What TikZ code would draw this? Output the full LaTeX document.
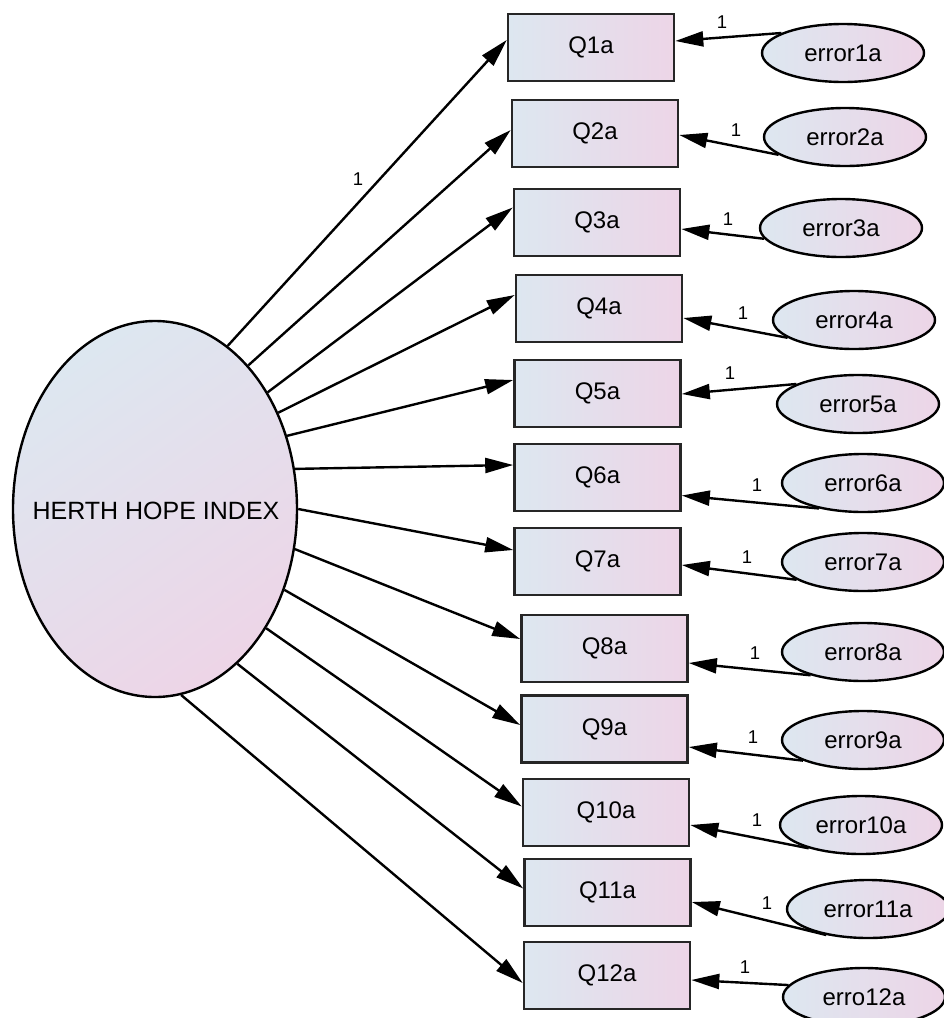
\documentclass[tikz,border=0pt]{standalone}
\usepackage{fontspec}
\setmainfont{Liberation Sans}
\usetikzlibrary{shapes.geometric,arrows.meta}
\definecolor{gblue}{RGB}{221,231,240}
\definecolor{gpink}{RGB}{237,213,231}
\begin{document}
\begin{tikzpicture}[x=1pt,y=-1pt,
 obs/.style={draw=black!85, line width=2.6pt, rectangle, minimum width=166pt, minimum height=67pt, inner sep=0pt, left color=gblue, right color=gpink, font=\fontsize{24}{28}\selectfont},
 err/.style={draw, line width=2.4pt, ellipse, minimum width=162pt, minimum height=58pt, inner sep=0pt, left color=gblue, right color=gpink, font=\fontsize{24}{28}\selectfont},
 lat/.style={draw, line width=2.4pt, ellipse, minimum width=284pt, minimum height=376pt, inner sep=0pt, top color=gblue, bottom color=gpink, shading angle=35},
 arr/.style={line width=2.4pt, -{Triangle[length=28pt,width=15pt]}},
 one/.style={font=\fontsize{18.5}{22}\selectfont, inner sep=0pt}]
\useasboundingbox (0,0) rectangle (943,1018);

% latent variable
\node[lat] (H) at (155,509) {};
\node[font=\fontsize{25}{30}\selectfont, inner sep=0pt] (Ht) at (156,511) {HERTH HOPE INDEX};

% observed variables
\node[obs] (Q1) at (591,47.5) {Q1a};
\node[obs] (Q2) at (595,133.5) {Q2a};
\node[obs] (Q3) at (597,222.5) {Q3a};
\node[obs] (Q4) at (599,308.5) {Q4a};
\node[obs] (Q5) at (597.5,393.5) {Q5a};
\node[obs] (Q6) at (597.5,477.5) {Q6a};
\node[obs] (Q7) at (597.5,561.5) {Q7a};
\node[obs] (Q8) at (604.5,648.5) {Q8a};
\node[obs] (Q9) at (604.5,729) {Q9a};
\node[obs] (Q10) at (606,812.5) {Q10a};
\node[obs] (Q11) at (607.5,892.5) {Q11a};
\node[obs] (Q12) at (607,975.5) {Q12a};

% error terms
\node[err] (e1) at (843,53) {error1a};
\node[err] (e2) at (845,137) {error2a};
\node[err] (e3) at (841,228) {error3a};
\node[err] (e4) at (854,320) {error4a};
\node[err] (e5) at (858,404) {error5a};
\node[err] (e6) at (863,483) {error6a};
\node[err] (e7) at (863,562) {error7a};
\node[err] (e8) at (863,652) {error8a};
\node[err] (e9) at (863,740) {error9a};
\node[err] (e10) at (861,825) {error10a};
\node[err] (e11) at (868,909) {error11a};
\node[err] (e12) at (864,997) {erro12a};

% loadings
\draw[arr] (H.66) -- ([yshift=7.5pt]Q1.west);
\draw[arr] (H.57) -- ([yshift=3.5pt]Q2.west);
\draw[arr] (H.46.5) -- ([yshift=15pt]Q3.west);
\draw[arr] (H.38.8) -- ([yshift=13.5pt]Q4.west);
\draw[arr] (H.29.1) -- ([yshift=13.5pt]Q5.west);
\draw[arr] (H.16.5) -- ([yshift=12.5pt]Q6.west);
\draw[arr] (H.0.8) -- ([yshift=11.5pt]Q7.west);
\draw[arr] (H.-16.3) -- ([yshift=9.5pt]Q8.west);
\draw[arr] (H.-32.9) -- ([yshift=4pt]Q9.west);
\draw[arr] (H.-47.2) -- ([yshift=6pt]Q10.west);
\draw[arr] (H.-62) -- ([yshift=4pt]Q11.west);
\draw[arr] (H.-82.4) -- ([yshift=-7.5pt]Q12.west);
\node[one] (l0) at (358,179) {1};

% error paths
\draw[arr] (e1.162.4) -- ([yshift=6.5pt]Q1.east);
\draw[arr] (e2.195.6) -- ([yshift=-1.5pt]Q2.east);
\draw[arr] (e3.188.7) -- ([yshift=-6.5pt]Q3.east);
\draw[arr] (e4.195.3) -- ([yshift=-9.5pt]Q4.east);
\draw[arr] (e5.162.4) -- ([yshift=-0.5pt]Q5.east);
\draw[arr] (e6.210.6) -- ([yshift=-18pt]Q6.east);
\draw[arr] (e7.195.5) -- ([yshift=-3.5pt]Q7.east);
\draw[arr] (e8.204) -- ([yshift=-14.5pt]Q8.east);
\draw[arr] (e9.199.3) -- ([yshift=-18pt]Q9.east);
\draw[arr] (e10.204.7) -- ([yshift=-12.5pt]Q10.east);
\draw[arr] (e11.212.4) -- ([yshift=-9.5pt]Q11.east);
\draw[arr] (e12.171.1) -- ([yshift=-4.5pt]Q12.east);

\node[one] (l1) at (722,22) {1};
\node[one] (l2) at (736,130) {1};
\node[one] (l3) at (728,219) {1};
\node[one] (l4) at (743,313) {1};
\node[one] (l5) at (730,373) {1};
\node[one] (l6) at (757,485) {1};
\node[one] (l7) at (747,557) {1};
\node[one] (l8) at (755,653) {1};
\node[one] (l9) at (753,737) {1};
\node[one] (l10) at (757,820) {1};
\node[one] (l11) at (767,903) {1};
\node[one] (l12) at (745,967) {1};
\end{tikzpicture}
\end{document}
